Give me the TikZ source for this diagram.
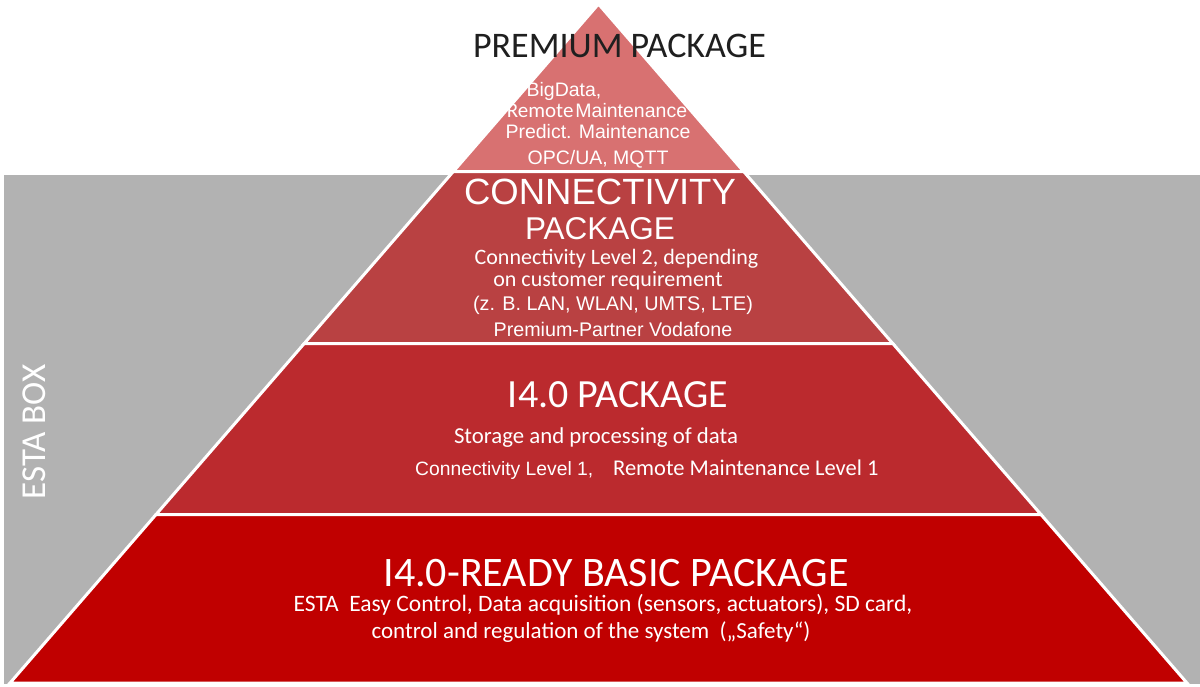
\documentclass[tikz,border=0pt]{standalone}
\usepackage{fontspec}
\setmainfont{Carlito}
\newfontfamily\arifont{Liberation Sans}
\usetikzlibrary{calc}
\definecolor{gbox}{HTML}{B2B2B2}
\definecolor{lprem}{HTML}{D87171}
\definecolor{lconn}{HTML}{B94142}
\definecolor{lifour}{HTML}{BB2A2E}
\definecolor{lbasic}{HTML}{C00000}
\newcommand{\fsz}[1]{\fontsize{#1}{#1}\selectfont}
\begin{document}
\begin{tikzpicture}[x=1pt,y=-1pt,
  layer/.style={draw=white, line width=3pt, line join=miter},
  txt/.style={text=white, inner sep=0pt, anchor=base}]
\useasboundingbox (0,0) rectangle (1200,687);
\fill[white] (0,0) rectangle (1200,687);
\fill[gbox] (4,175) rectangle (1200,684);
\coordinate (A) at (598.5,4);
\coordinate (BL) at (10,683);
\coordinate (BR) at (1187,683);
\coordinate (L1) at ($(A)!0.247!(BL)$);
\coordinate (R1) at ($(A)!0.247!(BR)$);
\coordinate (L2) at ($(A)!0.5!(BL)$);
\coordinate (R2) at ($(A)!0.5!(BR)$);
\coordinate (L3) at ($(A)!0.752!(BL)$);
\coordinate (R3) at ($(A)!0.752!(BR)$);
\path[layer, fill=lprem] (A) -- (R1) -- (L1) -- cycle;
\path[layer, fill=lconn] (L1) -- (R1) -- (R2) -- (L2) -- cycle;
\path[layer, fill=lifour] (L2) -- (R2) -- (R3) -- (L3) -- cycle;
\path[layer, fill=lbasic] (L3) -- (R3) -- (BR) -- (BL) -- cycle;
% premium
\node[txt, text=black!88] (prem) at (619.5,58) {\fsz{36}PREMIUM PACKAGE};
\node[txt] (p1) at (564,97) {\arifont\fsz{19.5}BigData,};
\node[txt] (p2) at (597,118) {{\fsz{21}Remote}\hspace{2pt}{\arifont\fsz{19.5}Maintenance}};
\node[txt] (p3) at (598,139) {\arifont\fsz{19.5}Predict. Maintenance};
\node[txt] (p4) at (598,165) {\arifont\fsz{19.5}OPC/UA, MQTT};
% connectivity
\node[txt] (c1) at (600,205) {\arifont\fsz{36.5}CONNECTIVITY};
\node[txt] (c2) at (600,240) {\arifont\fsz{31.5}PACKAGE};
\node[txt] (c3) at (616.5,265) {\fsz{22}Connectivity Level 2, depending};
\node[txt] (c4) at (608,287) {\fsz{22}on customer requirement};
\node[txt] (c5) at (613,310) {\arifont\fsz{19.8}(z. B. LAN, WLAN, UMTS, LTE)};
\node[txt] (c6) at (613,336) {\arifont\fsz{19.7}Premium-Partner Vodafone};
% I4.0
\node[txt] (i1) at (618,407) {\fsz{40}I4.0 PACKAGE};
\node[txt] (i2) at (596,443) {\fsz{22.8}Storage and processing of data};
\node[txt, anchor=base west] (i3) at (415,475) {\arifont\fsz{19.3}Connectivity Level 1,};
\node[txt, anchor=base west] (i4) at (613,475) {\fsz{22.5}Remote Maintenance Level 1};
% basic
\node[txt] (b1) at (616,586) {\fsz{42}I4.0-READY BASIC PACKAGE};
\node[txt] (b2) at (603,611) {\fsz{23.5}ESTA\ \ Easy Control, Data acquisition (sensors, actuators), SD card,};
\node[txt] (b3) at (591,638) {\fsz{23}control and regulation of the system\ \ („Safety“)};
% esta box
\node[txt, rotate=90] (esta) at (45,432) {\fsz{35}ESTA BOX};
\end{tikzpicture}
\end{document}
